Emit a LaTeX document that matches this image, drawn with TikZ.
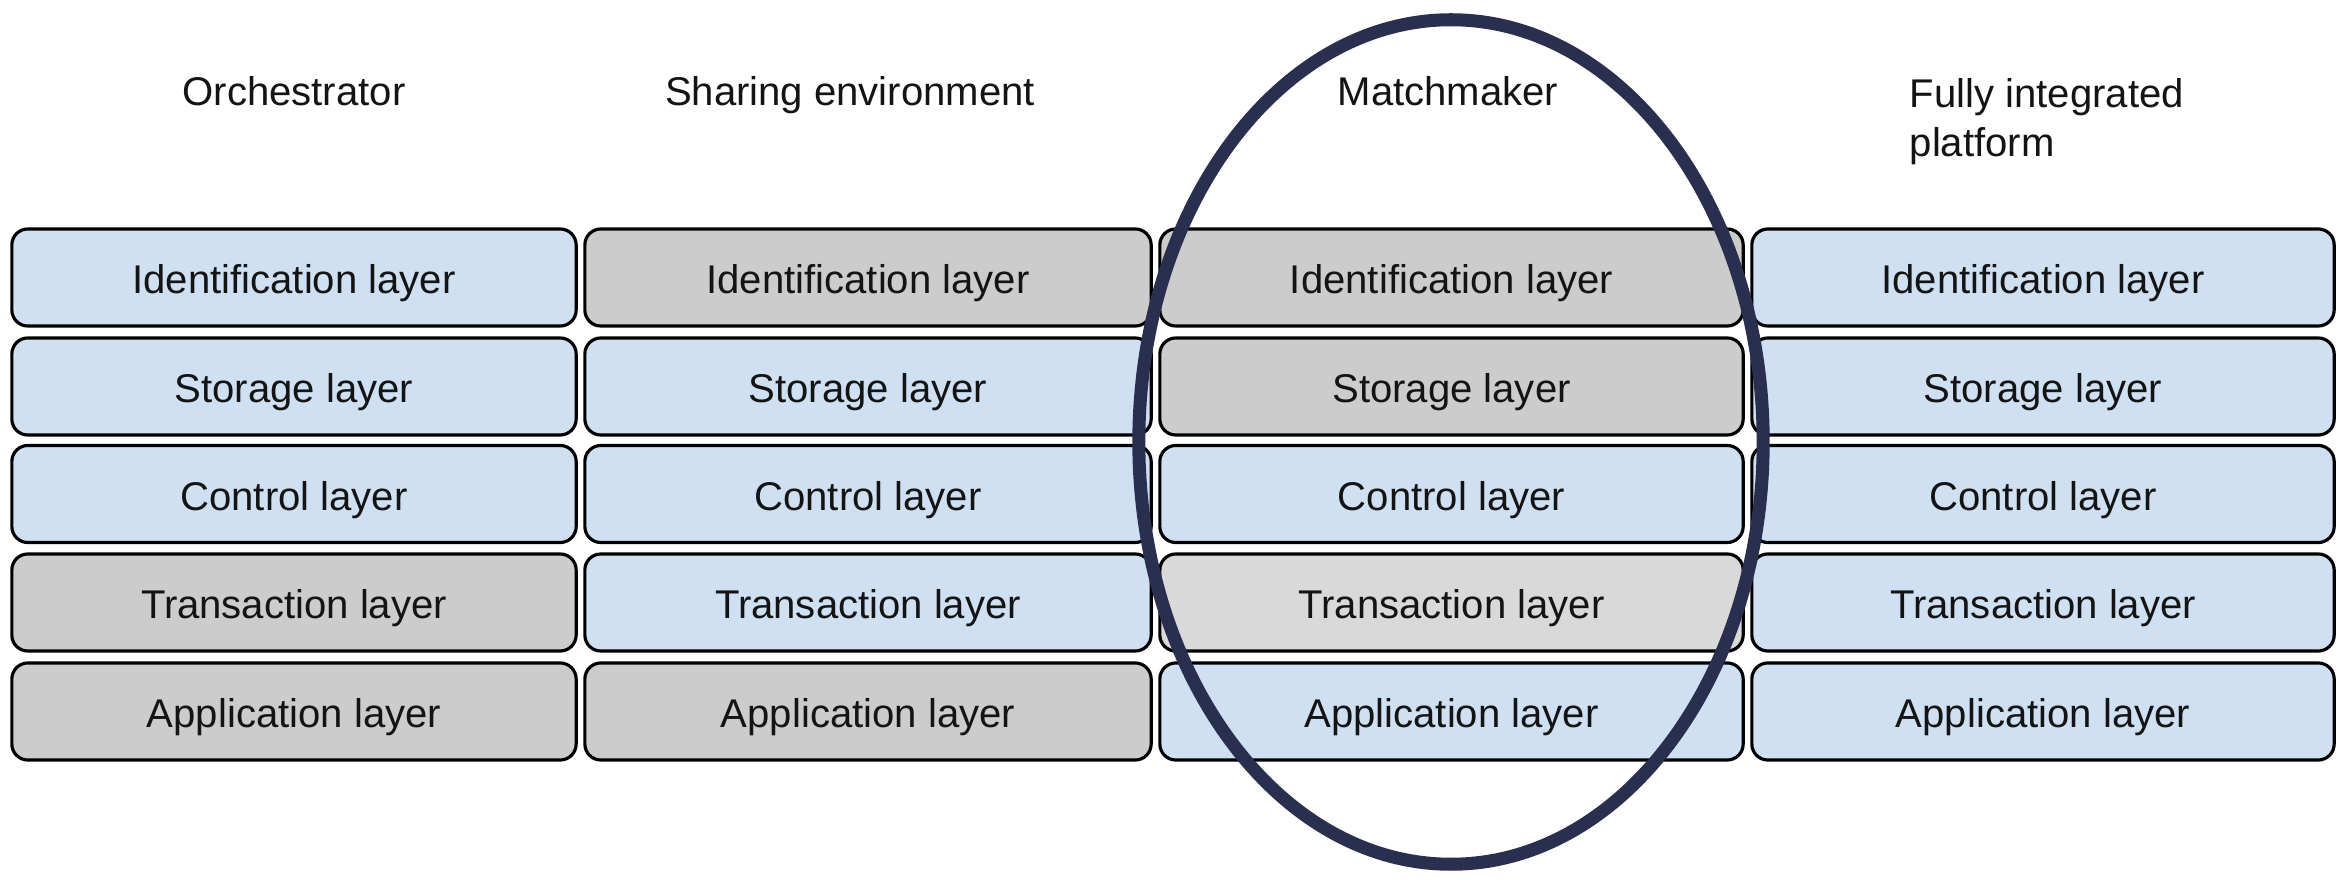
\documentclass[tikz,border=0pt]{standalone}
\usepackage{fontspec}
\setmainfont{Liberation Sans}
\definecolor{lblue}{HTML}{CFE0F3}
\definecolor{lgray}{HTML}{CCCCCC}
\definecolor{vlgray}{HTML}{D9D9D9}
\definecolor{navy}{HTML}{2B2F4F}
\tikzset{
  layerbox/.style={draw=black, line width=0.9pt, rounded corners=0.16cm, minimum height=0.97cm, inner sep=0pt, text height=0.41cm, text depth=0.085cm, font=\fontsize{11.4pt}{13pt}\selectfont, text=black!92},
  hdr/.style={font=\fontsize{11.4pt}{14pt}\selectfont, text=black!92, inner sep=0pt}
}
\begin{document}
\begin{tikzpicture}[x=0.01cm,y=-0.01cm]
\useasboundingbox (0,0) rectangle (2346,880);
\fill[white] (0,0) rectangle (2346,880);
% headers
\node[hdr, text height=0.29cm, text depth=0.085cm] (h1) at (294,95) {Orchestrator};
\node[hdr, text height=0.29cm, text depth=0.085cm] (h2) at (850,95) {Sharing environment};
\node[hdr, text height=0.29cm, text depth=0.085cm] (h3) at (1448,95) {Matchmaker};
\node[hdr, anchor=west, align=left] (h4) at (1909,122) {Fully integrated\\platform};
% boxes
\foreach \c/\cx/\w in {1/294/5.64, 2/868/5.66, 3/1451.5/5.83, 4/2043/5.82}{
  \foreach \r/\cy/\t in {1/277.5/Identification layer, 2/386.5/Storage layer, 3/494/Control layer, 4/602.5/Transaction layer, 5/711.5/Application layer}{
    \pgfmathtruncatemacro{\k}{10*\c+\r}
    \ifcase\numexpr\k-10\relax\or
      \def\fc{lblue}\or\def\fc{lblue}\or\def\fc{lblue}\or\def\fc{lgray}\or\def\fc{lgray}\or\or\or\or\or\or
      \def\fc{lgray}\or\def\fc{lblue}\or\def\fc{lblue}\or\def\fc{lblue}\or\def\fc{lgray}\or\or\or\or\or\or
      \def\fc{lgray}\or\def\fc{lgray}\or\def\fc{lblue}\or\def\fc{vlgray}\or\def\fc{lblue}\or\or\or\or\or\or
      \def\fc{lblue}\or\def\fc{lblue}\or\def\fc{lblue}\or\def\fc{lblue}\or\def\fc{lblue}
    \fi
    \node[layerbox, fill=\fc, minimum width=\w cm] (b\c\r) at (\cx,\cy) {\t};
  }
}
% ellipse highlight
\draw[navy, line width=3.7pt] (1451,442) ellipse [x radius=3.12cm, y radius=4.22cm];
\end{tikzpicture}
\end{document}
